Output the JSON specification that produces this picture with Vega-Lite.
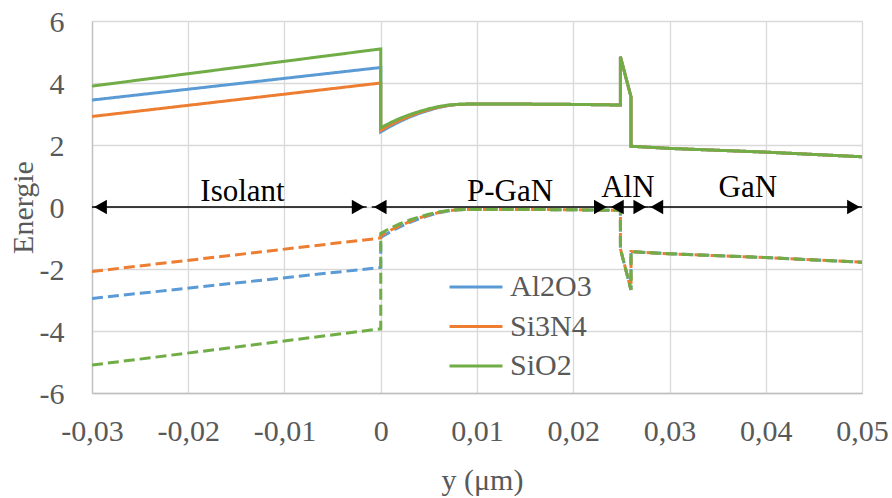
{
  "$schema": "https://vega.github.io/schema/vega-lite/v6.json",
  "width": 770,
  "height": 372,
  "autosize": {"type": "none"},
  "padding": {"left": 92, "top": 21, "right": 30, "bottom": 105},
  "config": {
    "view": {"stroke": null},
    "axis": {
      "labelFont": "Liberation Serif",
      "titleFont": "Liberation Serif",
      "labelFontSize": 30,
      "titleFontSize": 30,
      "labelColor": "#595959",
      "titleColor": "#595959",
      "titleFontWeight": "normal",
      "gridColor": "#d9d9d9",
      "gridWidth": 1.3,
      "domainColor": "#bfbfbf",
      "domainWidth": 1.3,
      "ticks": false,
      "tickSize": 0,
      "labelFlush": false,
      "labelOverlap": false
    },
    "legend": {
      "labelFont": "Liberation Serif",
      "labelFontSize": 30,
      "labelColor": "#595959"
    }
  },
  "datasets": {
    "bands": [
      {"m":"Al2O3","b":"Ec","i":0,"x":-0.03,"y":3.45},
      {"m":"Al2O3","b":"Ec","i":1,"x":0,"y":4.5},
      {"m":"Al2O3","b":"Ec","i":2,"x":0,"y":2.42},
      {"m":"Al2O3","b":"Ec","i":3,"x":0.001,"y":2.6},
      {"m":"Al2O3","b":"Ec","i":4,"x":0.002,"y":2.76},
      {"m":"Al2O3","b":"Ec","i":5,"x":0.003,"y":2.9},
      {"m":"Al2O3","b":"Ec","i":6,"x":0.004,"y":3.02},
      {"m":"Al2O3","b":"Ec","i":7,"x":0.005,"y":3.12},
      {"m":"Al2O3","b":"Ec","i":8,"x":0.006,"y":3.21},
      {"m":"Al2O3","b":"Ec","i":9,"x":0.007,"y":3.27},
      {"m":"Al2O3","b":"Ec","i":10,"x":0.008,"y":3.31},
      {"m":"Al2O3","b":"Ec","i":11,"x":0.009,"y":3.32},
      {"m":"Al2O3","b":"Ec","i":12,"x":0.015,"y":3.32},
      {"m":"Al2O3","b":"Ec","i":13,"x":0.02,"y":3.31},
      {"m":"Al2O3","b":"Ec","i":14,"x":0.0249,"y":3.29},
      {"m":"Al2O3","b":"Ec","i":15,"x":0.0249,"y":4.85},
      {"m":"Al2O3","b":"Ec","i":16,"x":0.026,"y":3.55},
      {"m":"Al2O3","b":"Ec","i":17,"x":0.026,"y":1.96},
      {"m":"Al2O3","b":"Ec","i":18,"x":0.03,"y":1.89},
      {"m":"Al2O3","b":"Ec","i":19,"x":0.04,"y":1.77},
      {"m":"Al2O3","b":"Ec","i":20,"x":0.05,"y":1.62},

      {"m":"Si3N4","b":"Ec","i":0,"x":-0.03,"y":2.92},
      {"m":"Si3N4","b":"Ec","i":1,"x":0,"y":4.0},
      {"m":"Si3N4","b":"Ec","i":2,"x":0,"y":2.47},
      {"m":"Si3N4","b":"Ec","i":3,"x":0.001,"y":2.65},
      {"m":"Si3N4","b":"Ec","i":4,"x":0.002,"y":2.8},
      {"m":"Si3N4","b":"Ec","i":5,"x":0.003,"y":2.93},
      {"m":"Si3N4","b":"Ec","i":6,"x":0.004,"y":3.05},
      {"m":"Si3N4","b":"Ec","i":7,"x":0.005,"y":3.14},
      {"m":"Si3N4","b":"Ec","i":8,"x":0.006,"y":3.22},
      {"m":"Si3N4","b":"Ec","i":9,"x":0.007,"y":3.28},
      {"m":"Si3N4","b":"Ec","i":10,"x":0.008,"y":3.31},
      {"m":"Si3N4","b":"Ec","i":11,"x":0.009,"y":3.32},
      {"m":"Si3N4","b":"Ec","i":12,"x":0.015,"y":3.32},
      {"m":"Si3N4","b":"Ec","i":13,"x":0.02,"y":3.31},
      {"m":"Si3N4","b":"Ec","i":14,"x":0.0249,"y":3.29},
      {"m":"Si3N4","b":"Ec","i":15,"x":0.0249,"y":4.85},
      {"m":"Si3N4","b":"Ec","i":16,"x":0.026,"y":3.55},
      {"m":"Si3N4","b":"Ec","i":17,"x":0.026,"y":1.96},
      {"m":"Si3N4","b":"Ec","i":18,"x":0.03,"y":1.89},
      {"m":"Si3N4","b":"Ec","i":19,"x":0.04,"y":1.77},
      {"m":"Si3N4","b":"Ec","i":20,"x":0.05,"y":1.62},

      {"m":"SiO2","b":"Ec","i":0,"x":-0.03,"y":3.9},
      {"m":"SiO2","b":"Ec","i":1,"x":0,"y":5.1},
      {"m":"SiO2","b":"Ec","i":2,"x":0,"y":2.55},
      {"m":"SiO2","b":"Ec","i":3,"x":0.001,"y":2.72},
      {"m":"SiO2","b":"Ec","i":4,"x":0.002,"y":2.86},
      {"m":"SiO2","b":"Ec","i":5,"x":0.003,"y":2.98},
      {"m":"SiO2","b":"Ec","i":6,"x":0.004,"y":3.08},
      {"m":"SiO2","b":"Ec","i":7,"x":0.005,"y":3.17},
      {"m":"SiO2","b":"Ec","i":8,"x":0.006,"y":3.24},
      {"m":"SiO2","b":"Ec","i":9,"x":0.007,"y":3.29},
      {"m":"SiO2","b":"Ec","i":10,"x":0.008,"y":3.31},
      {"m":"SiO2","b":"Ec","i":11,"x":0.009,"y":3.32},
      {"m":"SiO2","b":"Ec","i":12,"x":0.015,"y":3.32},
      {"m":"SiO2","b":"Ec","i":13,"x":0.02,"y":3.31},
      {"m":"SiO2","b":"Ec","i":14,"x":0.0249,"y":3.29},
      {"m":"SiO2","b":"Ec","i":15,"x":0.0249,"y":4.85},
      {"m":"SiO2","b":"Ec","i":16,"x":0.026,"y":3.55},
      {"m":"SiO2","b":"Ec","i":17,"x":0.026,"y":1.96},
      {"m":"SiO2","b":"Ec","i":18,"x":0.03,"y":1.89},
      {"m":"SiO2","b":"Ec","i":19,"x":0.04,"y":1.77},
      {"m":"SiO2","b":"Ec","i":20,"x":0.05,"y":1.62},

      {"m":"Al2O3","b":"Ev","i":0,"x":-0.03,"y":-2.95},
      {"m":"Al2O3","b":"Ev","i":1,"x":0,"y":-1.95},
      {"m":"Al2O3","b":"Ev","i":2,"x":0,"y":-0.98},
      {"m":"Al2O3","b":"Ev","i":3,"x":0.001,"y":-0.8},
      {"m":"Al2O3","b":"Ev","i":4,"x":0.002,"y":-0.64},
      {"m":"Al2O3","b":"Ev","i":5,"x":0.003,"y":-0.5},
      {"m":"Al2O3","b":"Ev","i":6,"x":0.004,"y":-0.38},
      {"m":"Al2O3","b":"Ev","i":7,"x":0.005,"y":-0.28},
      {"m":"Al2O3","b":"Ev","i":8,"x":0.006,"y":-0.19},
      {"m":"Al2O3","b":"Ev","i":9,"x":0.007,"y":-0.13},
      {"m":"Al2O3","b":"Ev","i":10,"x":0.008,"y":-0.09},
      {"m":"Al2O3","b":"Ev","i":11,"x":0.009,"y":-0.08},
      {"m":"Al2O3","b":"Ev","i":12,"x":0.015,"y":-0.08},
      {"m":"Al2O3","b":"Ev","i":13,"x":0.02,"y":-0.09},
      {"m":"Al2O3","b":"Ev","i":14,"x":0.0249,"y":-0.11},
      {"m":"Al2O3","b":"Ev","i":15,"x":0.0249,"y":-1.35},
      {"m":"Al2O3","b":"Ev","i":16,"x":0.026,"y":-2.67},
      {"m":"Al2O3","b":"Ev","i":17,"x":0.026,"y":-1.44},
      {"m":"Al2O3","b":"Ev","i":18,"x":0.03,"y":-1.51},
      {"m":"Al2O3","b":"Ev","i":19,"x":0.04,"y":-1.63},
      {"m":"Al2O3","b":"Ev","i":20,"x":0.05,"y":-1.78},

      {"m":"Si3N4","b":"Ev","i":0,"x":-0.03,"y":-2.08},
      {"m":"Si3N4","b":"Ev","i":1,"x":0,"y":-1.0},
      {"m":"Si3N4","b":"Ev","i":2,"x":0,"y":-0.93},
      {"m":"Si3N4","b":"Ev","i":3,"x":0.001,"y":-0.75},
      {"m":"Si3N4","b":"Ev","i":4,"x":0.002,"y":-0.6},
      {"m":"Si3N4","b":"Ev","i":5,"x":0.003,"y":-0.47},
      {"m":"Si3N4","b":"Ev","i":6,"x":0.004,"y":-0.35},
      {"m":"Si3N4","b":"Ev","i":7,"x":0.005,"y":-0.26},
      {"m":"Si3N4","b":"Ev","i":8,"x":0.006,"y":-0.18},
      {"m":"Si3N4","b":"Ev","i":9,"x":0.007,"y":-0.12},
      {"m":"Si3N4","b":"Ev","i":10,"x":0.008,"y":-0.09},
      {"m":"Si3N4","b":"Ev","i":11,"x":0.009,"y":-0.08},
      {"m":"Si3N4","b":"Ev","i":12,"x":0.015,"y":-0.08},
      {"m":"Si3N4","b":"Ev","i":13,"x":0.02,"y":-0.09},
      {"m":"Si3N4","b":"Ev","i":14,"x":0.0249,"y":-0.11},
      {"m":"Si3N4","b":"Ev","i":15,"x":0.0249,"y":-1.35},
      {"m":"Si3N4","b":"Ev","i":16,"x":0.026,"y":-2.67},
      {"m":"Si3N4","b":"Ev","i":17,"x":0.026,"y":-1.44},
      {"m":"Si3N4","b":"Ev","i":18,"x":0.03,"y":-1.51},
      {"m":"Si3N4","b":"Ev","i":19,"x":0.04,"y":-1.63},
      {"m":"Si3N4","b":"Ev","i":20,"x":0.05,"y":-1.78},

      {"m":"SiO2","b":"Ev","i":0,"x":-0.03,"y":-5.1},
      {"m":"SiO2","b":"Ev","i":1,"x":0,"y":-3.93},
      {"m":"SiO2","b":"Ev","i":2,"x":0,"y":-0.85},
      {"m":"SiO2","b":"Ev","i":3,"x":0.001,"y":-0.68},
      {"m":"SiO2","b":"Ev","i":4,"x":0.002,"y":-0.54},
      {"m":"SiO2","b":"Ev","i":5,"x":0.003,"y":-0.42},
      {"m":"SiO2","b":"Ev","i":6,"x":0.004,"y":-0.32},
      {"m":"SiO2","b":"Ev","i":7,"x":0.005,"y":-0.23},
      {"m":"SiO2","b":"Ev","i":8,"x":0.006,"y":-0.16},
      {"m":"SiO2","b":"Ev","i":9,"x":0.007,"y":-0.11},
      {"m":"SiO2","b":"Ev","i":10,"x":0.008,"y":-0.09},
      {"m":"SiO2","b":"Ev","i":11,"x":0.009,"y":-0.08},
      {"m":"SiO2","b":"Ev","i":12,"x":0.015,"y":-0.08},
      {"m":"SiO2","b":"Ev","i":13,"x":0.02,"y":-0.09},
      {"m":"SiO2","b":"Ev","i":14,"x":0.0249,"y":-0.11},
      {"m":"SiO2","b":"Ev","i":15,"x":0.0249,"y":-1.35},
      {"m":"SiO2","b":"Ev","i":16,"x":0.026,"y":-2.67},
      {"m":"SiO2","b":"Ev","i":17,"x":0.026,"y":-1.44},
      {"m":"SiO2","b":"Ev","i":18,"x":0.03,"y":-1.51},
      {"m":"SiO2","b":"Ev","i":19,"x":0.04,"y":-1.63},
      {"m":"SiO2","b":"Ev","i":20,"x":0.05,"y":-1.78}
    ],
    "regions": [
      {"r":"Isolant","x1":-0.03,"x2":-0.00146,"tx":-0.01436,"ty":0.19},
      {"r":"P-GaN","x1":-0.00094,"x2":0.0237,"tx":0.01343,"ty":0.19},
      {"r":"AlN","x1":0.0237,"x2":0.0278,"tx":0.02567,"ty":0.32},
      {"r":"GaN","x1":0.0278,"x2":0.05,"tx":0.03814,"ty":0.32}
    ]
  },
  "layer": [
    {
      "data": {"name": "bands"},
      "mark": {"type": "line", "strokeWidth": 3, "clip": true},
      "encoding": {
        "x": {
          "field": "x", "type": "quantitative",
          "scale": {"domain": [-0.03, 0.05], "nice": false, "zero": false},
          "axis": {
            "title": "y (μm)",
            "values": [-0.03, -0.02, -0.01, 0, 0.01, 0.02, 0.03, 0.04, 0.05],
            "labelExpr": "datum.value == 0 ? '0' : (datum.value < 0 ? '-' : '') + replace(format(abs(datum.value), '.2f'), '.', ',')",
            "labelPadding": 23,
            "titleX": 390,
            "titleY": 96,
            "titleBaseline": "alphabetic",
            "titleAlign": "center"
          }
        },
        "y": {
          "field": "y", "type": "quantitative",
          "scale": {"domain": [-6, 6], "nice": false, "zero": false},
          "axis": {
            "title": "Energie",
            "values": [-6, -4, -2, 0, 2, 4, 6],
            "labelExpr": "(datum.value < 0 ? '-' : '') + abs(datum.value)",
            "labelPadding": 28,
            "labelOffset": 1,
            "titleX": -60,
            "titleY": 186,
            "titleAngle": -90,
            "titleBaseline": "alphabetic",
            "titleAlign": "center"
          }
        },
        "color": {
          "field": "m", "type": "nominal",
          "scale": {"domain": ["Al2O3", "Si3N4", "SiO2"], "range": ["#5B9BD5", "#ED7D31", "#70AD47"]},
          "legend": {
            "title": null,
            "orient": "none",
            "legendX": 369,
            "legendY": 251,
            "padding": 0,
            "symbolType": "M-3.5,0H3.5",
            "symbolSize": 229,
            "symbolStrokeWidth": 3,
            "labelOffset": 19,
            "rowPadding": 9.5
          }
        },
        "strokeDash": {
          "field": "b", "type": "nominal",
          "scale": {"domain": ["Ec", "Ev"], "range": [[1, 0], [11, 5]]},
          "legend": null
        },
        "order": {"field": "i", "type": "quantitative"}
      }
    },
    {
      "data": {"name": "regions"},
      "mark": {"type": "rule", "color": "black", "strokeWidth": 1.5},
      "encoding": {
        "x": {"field": "x1", "type": "quantitative"},
        "x2": {"field": "x2"},
        "y": {"datum": 0, "type": "quantitative"}
      }
    },
    {
      "data": {"name": "regions"},
      "mark": {"type": "point", "shape": "triangle-left", "filled": true, "color": "black", "opacity": 1, "size": 216, "xOffset": 8.5, "strokeWidth": 0},
      "encoding": {
        "x": {"field": "x1", "type": "quantitative"},
        "y": {"datum": 0, "type": "quantitative"}
      }
    },
    {
      "data": {"name": "regions"},
      "mark": {"type": "point", "shape": "triangle-right", "filled": true, "color": "black", "opacity": 1, "size": 216, "xOffset": -8.5, "strokeWidth": 0},
      "encoding": {
        "x": {"field": "x2", "type": "quantitative"},
        "y": {"datum": 0, "type": "quantitative"}
      }
    },
    {
      "data": {"name": "regions"},
      "mark": {"type": "text", "font": "Liberation Serif", "fontSize": 31, "color": "black", "align": "center", "baseline": "alphabetic"},
      "encoding": {
        "x": {"field": "tx", "type": "quantitative"},
        "y": {"field": "ty", "type": "quantitative"},
        "text": {"field": "r"}
      }
    }
  ]
}
